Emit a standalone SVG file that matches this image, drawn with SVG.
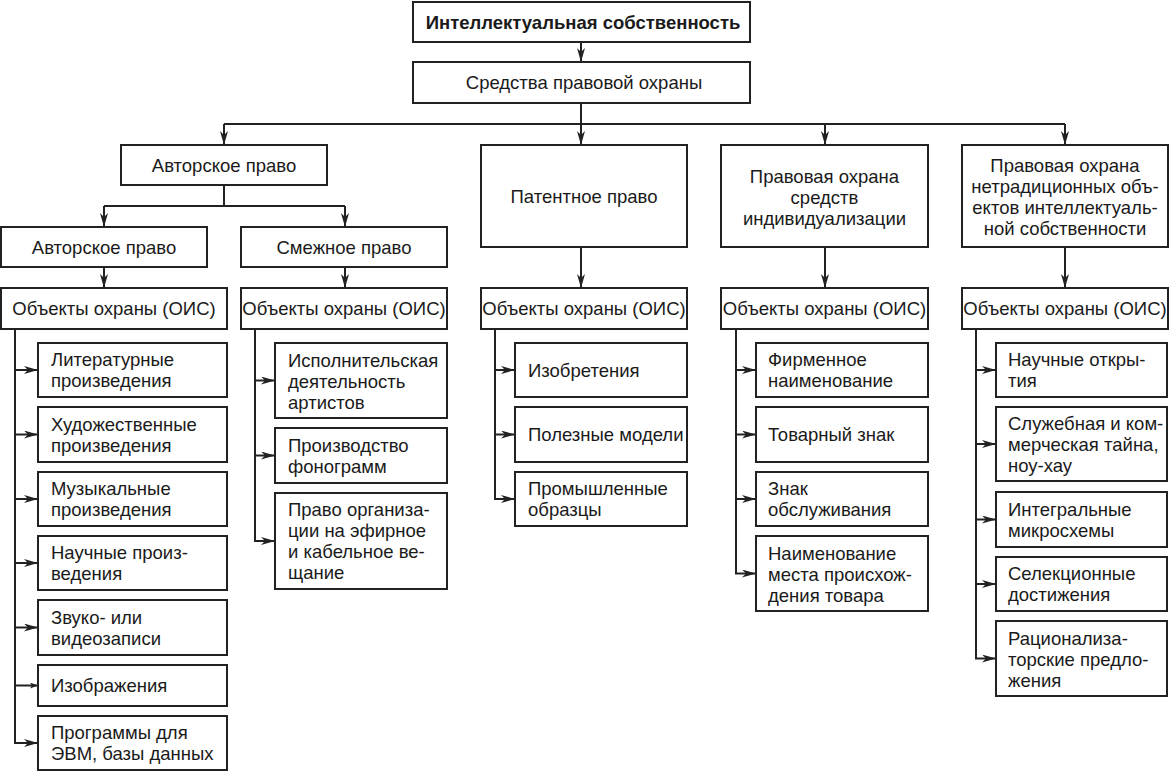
<svg xmlns="http://www.w3.org/2000/svg" width="1170" height="771" viewBox="0 0 1170 771">
<style>
.box{fill:#fff;stroke:#222;stroke-width:2}
.ln{fill:none;stroke:#222;stroke-width:2}
.t{font-family:"Liberation Sans",Arial,sans-serif;font-size:18.5px;fill:#1a1a1a}
.c{text-anchor:middle}
.b{font-weight:bold}
.lf{font-size:18.5px}
</style>
<defs>
<marker id="ah" markerUnits="userSpaceOnUse" markerWidth="15" markerHeight="9" refX="14" refY="4" orient="auto">
<path d="M0,0 L14,4 L0,8 L4,4 z" fill="#222"/>
</marker>
<marker id="ahs" markerUnits="userSpaceOnUse" markerWidth="9" markerHeight="7" refX="8" refY="3" orient="auto">
<path d="M0,0 L8,3 L0,6 L2,3 z" fill="#222"/>
</marker>
</defs>
<rect width="1170" height="771" fill="#fff"/>

<g id="connectors">
<path class="ln" d="M581,42 V62" marker-end="url(#ah)"/>
<path class="ln" d="M581,103 V145" marker-end="url(#ah)"/>
<path class="ln" d="M224,124 H1065"/>
<path class="ln" d="M224,124 V145" marker-end="url(#ah)"/>
<path class="ln" d="M825,124 V145" marker-end="url(#ah)"/>
<path class="ln" d="M1065,124 V145" marker-end="url(#ah)"/>
<path class="ln" d="M224,185 V206"/>
<path class="ln" d="M104,206 H345"/>
<path class="ln" d="M104,206 V227" marker-end="url(#ah)"/>
<path class="ln" d="M345,206 V227" marker-end="url(#ah)"/>
<path class="ln" d="M104,267 V288" marker-end="url(#ah)"/>
<path class="ln" d="M345,267 V288" marker-end="url(#ah)"/>
<path class="ln" d="M581,247 V288" marker-end="url(#ah)"/>
<path class="ln" d="M825,247 V288" marker-end="url(#ah)"/>
<path class="ln" d="M1065,247 V288" marker-end="url(#ah)"/>

<path class="ln" d="M15,329 V743 H38" marker-end="url(#ah)"/>
<path class="ln" d="M15,370 H38" marker-end="url(#ah)"/>
<path class="ln" d="M15,434.5 H38" marker-end="url(#ah)"/>
<path class="ln" d="M15,499 H38" marker-end="url(#ah)"/>
<path class="ln" d="M15,563 H38" marker-end="url(#ah)"/>
<path class="ln" d="M15,627.5 H38" marker-end="url(#ah)"/>
<path class="ln" d="M15,685.5 H38" marker-end="url(#ahs)"/>

<path class="ln" d="M255,329 V541 H275" marker-end="url(#ah)"/>
<path class="ln" d="M255,380.5 H275" marker-end="url(#ah)"/>
<path class="ln" d="M255,455.5 H275" marker-end="url(#ah)"/>

<path class="ln" d="M495,329 V499 H515" marker-end="url(#ah)"/>
<path class="ln" d="M495,370 H515" marker-end="url(#ah)"/>
<path class="ln" d="M495,434.5 H515" marker-end="url(#ah)"/>

<path class="ln" d="M736,329 V573.5 H756" marker-end="url(#ah)"/>
<path class="ln" d="M736,370 H756" marker-end="url(#ah)"/>
<path class="ln" d="M736,434.5 H756" marker-end="url(#ah)"/>
<path class="ln" d="M736,499 H756" marker-end="url(#ah)"/>

<path class="ln" d="M976,329 V658.5 H996" marker-end="url(#ah)"/>
<path class="ln" d="M976,370 H996" marker-end="url(#ah)"/>
<path class="ln" d="M976,444 H996" marker-end="url(#ah)"/>
<path class="ln" d="M976,519.5 H996" marker-end="url(#ah)"/>
<path class="ln" d="M976,584 H996" marker-end="url(#ah)"/>
</g>

<g id="n-ip">
<rect class="box" x="413" y="2" width="337" height="40"/>
<text class="t c b" x="583" y="28.5">Интеллектуальная собственность</text>
</g>
<g id="n-means">
<rect class="box" x="413" y="62" width="337" height="41"/>
<text class="t c" x="584" y="89">Средства правовой охраны</text>
</g>

<g id="n-copyright">
<rect class="box" x="121" y="145" width="206" height="40"/>
<text class="t c" x="224" y="171.5">Авторское право</text>
</g>
<g id="n-patent">
<rect class="box" x="481" y="145" width="206" height="102"/>
<text class="t c" x="584" y="202.5">Патентное право</text>
</g>
<g id="n-indiv">
<rect class="box" x="721" y="145" width="207" height="102"/>
<text class="t c" x="824.5" y="182.5">Правовая охрана</text>
<text class="t c" x="824.5" y="203.5">средств</text>
<text class="t c" x="824.5" y="224.5">индивидуализации</text>
</g>
<g id="n-nontrad">
<rect class="box" x="962" y="145" width="206" height="102"/>
<text class="t c" x="1065" y="172">Правовая охрана</text>
<text class="t c" x="1065" y="193">нетрадиционных объ-</text>
<text class="t c" x="1065" y="214">ектов интеллектуаль-</text>
<text class="t c" x="1065" y="235">ной собственности</text>
</g>

<g id="n-copyright2">
<rect class="box" x="1" y="227" width="206" height="40"/>
<text class="t c" x="104" y="253.5">Авторское право</text>
</g>
<g id="n-related">
<rect class="box" x="241" y="227" width="206" height="40"/>
<text class="t c" x="344" y="253.5">Смежное право</text>
</g>

<g id="n-obj1"><rect class="box" x="1" y="288" width="226" height="41"/><text class="t c" x="114" y="315">Объекты охраны (ОИС)</text></g>
<g id="n-obj2"><rect class="box" x="241" y="288" width="206" height="41"/><text class="t c" x="344" y="315">Объекты охраны (ОИС)</text></g>
<g id="n-obj3"><rect class="box" x="481" y="288" width="206" height="41"/><text class="t c" x="584" y="315">Объекты охраны (ОИС)</text></g>
<g id="n-obj4"><rect class="box" x="721" y="288" width="207" height="41"/><text class="t c" x="824.5" y="315">Объекты охраны (ОИС)</text></g>
<g id="n-obj5"><rect class="box" x="962" y="288" width="206" height="41"/><text class="t c" x="1065" y="315">Объекты охраны (ОИС)</text></g>

<g id="a1"><rect class="box" x="38" y="343" width="189" height="54"/><text class="t lf" x="51" y="366">Литературные</text><text class="t lf" x="51" y="387">произведения</text></g>
<g id="a2"><rect class="box" x="38" y="407" width="189" height="55"/><text class="t lf" x="51" y="430.5">Художественные</text><text class="t lf" x="51" y="451.5">произведения</text></g>
<g id="a3"><rect class="box" x="38" y="472" width="189" height="54"/><text class="t lf" x="51" y="495">Музыкальные</text><text class="t lf" x="51" y="516">произведения</text></g>
<g id="a4"><rect class="box" x="38" y="536" width="189" height="54"/><text class="t lf" x="51" y="559">Научные произ-</text><text class="t lf" x="51" y="580">ведения</text></g>
<g id="a5"><rect class="box" x="38" y="600" width="189" height="55"/><text class="t lf" x="51" y="623.5">Звуко- или</text><text class="t lf" x="51" y="644.5">видеозаписи</text></g>
<g id="a6"><rect class="box" x="38" y="665" width="189" height="41"/><text class="t lf" x="51" y="692">Изображения</text></g>
<g id="a7"><rect class="box" x="38" y="716" width="189" height="54"/><text class="t lf" x="51" y="739">Программы для</text><text class="t lf" x="51" y="760">ЭВМ, базы данных</text></g>

<g id="b1"><rect class="box" x="275" y="343" width="172" height="75"/><text class="t lf" x="288" y="366.5">Исполнительская</text><text class="t lf" x="288" y="387.5">деятельность</text><text class="t lf" x="288" y="408.5">артистов</text></g>
<g id="b2"><rect class="box" x="275" y="428" width="172" height="55"/><text class="t lf" x="288" y="451.5">Производство</text><text class="t lf" x="288" y="472.5">фонограмм</text></g>
<g id="b3"><rect class="box" x="275" y="493" width="172" height="96"/><text class="t lf" x="288" y="515.5">Право организа-</text><text class="t lf" x="288" y="536.5">ции на эфирное</text><text class="t lf" x="288" y="557.5">и кабельное ве-</text><text class="t lf" x="288" y="578.5">щание</text></g>

<g id="c1"><rect class="box" x="515" y="343" width="172" height="54"/><text class="t lf" x="528" y="376.5">Изобретения</text></g>
<g id="c2"><rect class="box" x="515" y="407" width="172" height="55"/><text class="t lf" x="528" y="441">Полезные модели</text></g>
<g id="c3"><rect class="box" x="515" y="472" width="172" height="54"/><text class="t lf" x="528" y="495">Промышленные</text><text class="t lf" x="528" y="516">образцы</text></g>

<g id="d1"><rect class="box" x="756" y="343" width="172" height="54"/><text class="t lf" x="768" y="366">Фирменное</text><text class="t lf" x="768" y="387">наименование</text></g>
<g id="d2"><rect class="box" x="756" y="407" width="172" height="55"/><text class="t lf" x="768" y="441">Товарный знак</text></g>
<g id="d3"><rect class="box" x="756" y="472" width="172" height="54"/><text class="t lf" x="768" y="495">Знак</text><text class="t lf" x="768" y="516">обслуживания</text></g>
<g id="d4"><rect class="box" x="756" y="536" width="172" height="75"/><text class="t lf" x="768" y="559.5">Наименование</text><text class="t lf" x="768" y="580.5">места происхож-</text><text class="t lf" x="768" y="601.5">дения товара</text></g>

<g id="e1"><rect class="box" x="996" y="343" width="171" height="54"/><text class="t lf" x="1008" y="366">Научные откры-</text><text class="t lf" x="1008" y="387">тия</text></g>
<g id="e2"><rect class="box" x="996" y="407" width="171" height="74"/><text class="t lf" x="1008" y="429.5">Служебная и ком-</text><text class="t lf" x="1008" y="450.5">мерческая тайна,</text><text class="t lf" x="1008" y="471.5">ноу-хау</text></g>
<g id="e3"><rect class="box" x="996" y="492" width="171" height="55"/><text class="t lf" x="1008" y="515.5">Интегральные</text><text class="t lf" x="1008" y="536.5">микросхемы</text></g>
<g id="e4"><rect class="box" x="996" y="557" width="171" height="54"/><text class="t lf" x="1008" y="580">Селекционные</text><text class="t lf" x="1008" y="601">достижения</text></g>
<g id="e5"><rect class="box" x="996" y="621" width="171" height="75"/><text class="t lf" x="1008" y="644.5">Рационализа-</text><text class="t lf" x="1008" y="665.5">торские предло-</text><text class="t lf" x="1008" y="686.5">жения</text></g>
</svg>
